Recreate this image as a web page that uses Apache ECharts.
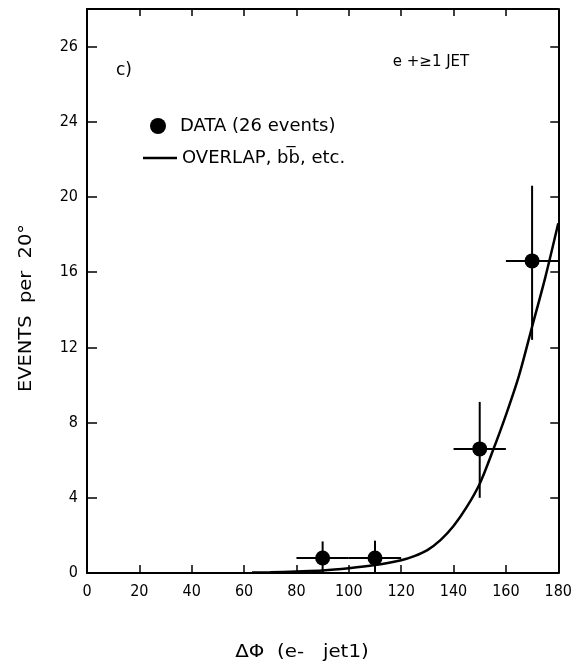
<!DOCTYPE html>
<html>
<head>
<meta charset="utf-8">
<script src="https://cdn.jsdelivr.net/npm/echarts@6/dist/echarts.min.js"></script>
<style>
  html, body { margin: 0; padding: 0; background: #fff; }
  #chart { width: 575px; height: 666px; }
</style>
</head>
<body>
<div id="chart"></div>
<script>
// Measured electron–jet azimuthal separation, 20° bins
const binCenters = [90, 110, 150, 170];
const binLow     = [80, 100, 140, 160];
const binHigh    = [100, 120, 160, 180];
const events     = [0.8, 0.8, 6.6, 16.6];
const errLow     = [0, 0, 4.0, 12.4];
const errHigh    = [1.68, 1.72, 9.1, 20.6];

// Expected shape from overlap, b b-bar and other sources
const overlapPhi    = [63, 70, 80, 90, 100, 110, 120, 125, 130, 135, 140, 145, 150, 155, 160, 165, 170, 175, 180];
const overlapEvents = [0.02, 0.04, 0.08, 0.13, 0.25, 0.42, 0.68, 0.9, 1.22, 1.75, 2.5, 3.5, 4.75, 6.5, 8.4, 10.5, 13.1, 15.7, 18.6];

// Axis ticks and their printed labels
const xTicks = [0, 20, 40, 60, 80, 100, 120, 140, 160, 180];
const yTickValues = [0, 4, 8, 12, 16, 20, 24, 28];
const yTickLabels = ['0', '4', '8', '12', '16', '20', '24', '26'];

const dataName = 'DATA (26 events)';
const curveName = 'OVERLAP, b\u0062\u0305, etc.';

const tickFont = "'DejaVu Sans Condensed', 'Liberation Sans Narrow', 'DejaVu Sans', sans-serif";
const textFont = "'DejaVu Sans', sans-serif";

const chart = echarts.init(document.getElementById('chart'), null, { renderer: 'canvas' });

const errorData = binCenters.map((x, i) => [x, events[i], binLow[i], binHigh[i], errLow[i], errHigh[i]]);

const yLabelMap = {};
yTickValues.forEach((v, i) => { yLabelMap[v] = yTickLabels[i]; });

const axisLineStyle = { color: '#000', width: 2 };
const legendText = { fontFamily: textFont, fontSize: 18, color: '#000' };

chart.setOption({
  animation: false,
  backgroundColor: '#fff',
  grid: { left: 87, right: 11, top: 9, bottom: 93, show: false },
  legend: [
    {
      orient: 'vertical', left: 150, top: 117, padding: 0,
      itemWidth: 34, itemHeight: 16, selectedMode: false,
      textStyle: legendText,
      itemStyle: { opacity: 1 },
      data: [{ name: dataName, icon: 'circle' }]
    },
    {
      orient: 'vertical', left: 143, top: 149, padding: 0,
      itemWidth: 34, itemHeight: 2.5, selectedMode: false,
      textStyle: legendText,
      data: [{ name: curveName, icon: 'rect' }]
    }
  ],
  xAxis: [
    {
      type: 'value', min: 0, max: 180, interval: 20, position: 'bottom',
      axisLine: { show: true, onZero: false, lineStyle: axisLineStyle },
      axisTick: { show: true, inside: true, length: 8, lineStyle: { color: '#000', width: 1.5 } },
      axisLabel: {
        margin: 11, color: '#000', fontSize: 16, fontFamily: tickFont,
        customValues: xTicks
      },
      splitLine: { show: false }
    },
    {
      type: 'value', min: 0, max: 180, interval: 20, position: 'top',
      axisLine: { show: true, onZero: false, lineStyle: axisLineStyle },
      axisTick: { show: true, inside: true, length: 7, lineStyle: { color: '#000', width: 1.5 } },
      axisLabel: { show: false },
      splitLine: { show: false }
    }
  ],
  yAxis: [
    {
      type: 'value', min: 0, max: 30, interval: 4, position: 'left',
      axisLine: { show: true, onZero: false, lineStyle: axisLineStyle },
      axisTick: { show: true, inside: true, length: 10, lineStyle: { color: '#000', width: 1.5 }, customValues: yTickValues },
      axisLabel: {
        margin: 9, color: '#000', fontSize: 16, fontFamily: tickFont,
        customValues: yTickValues,
        formatter: v => (yLabelMap[v] !== undefined ? yLabelMap[v] : '')
      },
      splitLine: { show: false }
    },
    {
      type: 'value', min: 0, max: 30, interval: 4, position: 'right',
      axisLine: { show: true, onZero: false, lineStyle: axisLineStyle },
      axisTick: { show: true, inside: true, length: 8, lineStyle: { color: '#000', width: 1.5 }, customValues: yTickValues },
      axisLabel: { show: false },
      splitLine: { show: false }
    }
  ],
  graphic: [
    {
      type: 'text', left: 116, top: 62,
      style: { text: 'c)', font: "17px " + textFont, fill: '#000' }
    },
    {
      type: 'text', x: 431, y: 62,
      style: { text: 'e +\u22651 JET', font: "15px " + textFont, fill: '#000', align: 'center', verticalAlign: 'middle' }
    },
    {
      type: 'text', x: 26, y: 308, rotation: Math.PI / 2,
      scaleX: 1.08,
      style: { text: 'EVENTS  per  20°', font: "18px " + textFont, fill: '#000', align: 'center', verticalAlign: 'middle' }
    },
    {
      type: 'text', x: 302, y: 652, scaleX: 1.1,
      style: { text: 'ΔΦ  (e-   jet1)', font: "18px " + textFont, fill: '#000', align: 'center', verticalAlign: 'middle' }
    }
  ],
  series: [
    {
      name: curveName,
      type: 'line',
      xAxisIndex: 0, yAxisIndex: 0,
      data: overlapPhi.map((x, i) => [x, overlapEvents[i]]),
      smooth: 0.3,
      symbol: 'none',
      lineStyle: { color: '#000', width: 2.5 },
      itemStyle: { color: '#000' },
      z: 3
    },
    {
      name: 'errors',
      type: 'custom',
      xAxisIndex: 0, yAxisIndex: 0,
      data: errorData,
      renderItem: function (params, api) {
        const c = api.coord([api.value(0), api.value(1)]);
        const l = api.coord([api.value(2), api.value(1)]);
        const r = api.coord([api.value(3), api.value(1)]);
        const lo = api.coord([api.value(0), api.value(4)]);
        const hi = api.coord([api.value(0), api.value(5)]);
        const st = { stroke: '#000', lineWidth: 2 };
        return {
          type: 'group',
          children: [
            { type: 'line', shape: { x1: l[0], y1: c[1], x2: r[0], y2: c[1] }, style: st },
            { type: 'line', shape: { x1: c[0], y1: lo[1], x2: c[0], y2: hi[1] }, style: st }
          ]
        };
      },
      itemStyle: { color: '#000' },
      z: 4
    },
    {
      name: dataName,
      type: 'scatter',
      xAxisIndex: 0, yAxisIndex: 0,
      data: binCenters.map((x, i) => [x, events[i]]),
      symbol: 'circle',
      symbolSize: 15,
      itemStyle: { color: '#000', opacity: 1 },
      z: 5
    }
  ]
});
</script>
</body>
</html>
